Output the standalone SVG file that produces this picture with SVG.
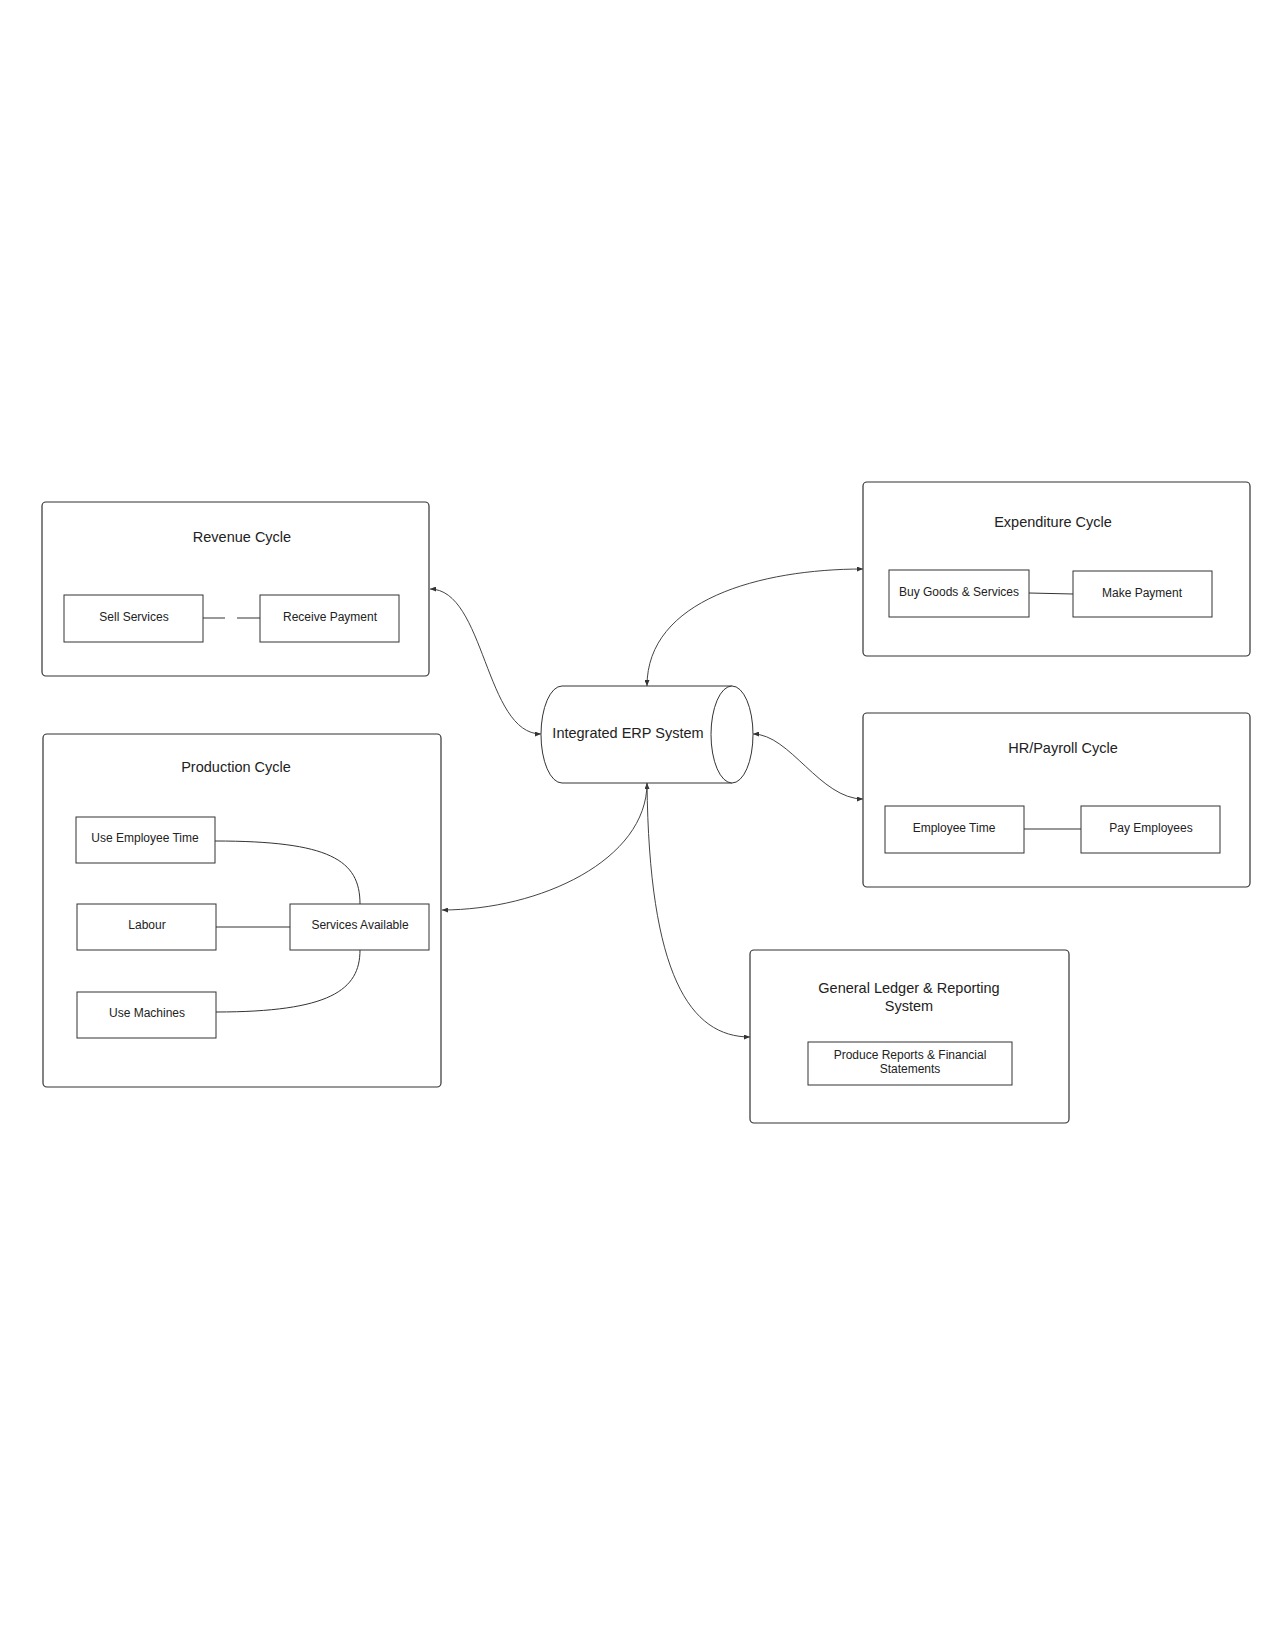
<svg xmlns="http://www.w3.org/2000/svg" width="1276" height="1651" viewBox="0 0 1276 1651">
<style>
.bg{fill:#ffffff}
.outer{fill:#ffffff;stroke:#333333;stroke-width:1.2}
.inner{fill:#ffffff;stroke:#333333;stroke-width:1}
.title{font-family:"Liberation Sans",Arial,sans-serif;font-size:14.5px;fill:#222222;text-anchor:middle}
.label{font-family:"Liberation Sans",Arial,sans-serif;font-size:12px;fill:#222222;text-anchor:middle}
.conn{fill:none;stroke:#444444;stroke-width:1}
.link{fill:none;stroke:#333333;stroke-width:1}
</style>
<defs>
<marker id="arr" viewBox="0 0 6 5" refX="6" refY="2.5" markerWidth="6" markerHeight="5" markerUnits="userSpaceOnUse" orient="auto-start-reverse">
<path d="M0,0 L6,2.5 L0,5 z" fill="#333333"/>
</marker>
</defs>
<rect class="bg" x="0" y="0" width="1276" height="1651"/>

<g id="revenue-cycle">
<rect class="outer" x="42" y="502" width="387" height="174" rx="4"/>
<text class="title" x="242" y="542">Revenue Cycle</text>
</g>
<g id="sell-services">
<rect class="inner" x="64" y="595" width="139" height="47"/>
<text class="label" x="134" y="621">Sell Services</text>
</g>
<g id="receive-payment">
<rect class="inner" x="260" y="595" width="139" height="47"/>
<text class="label" x="330" y="621">Receive Payment</text>
</g>

<g id="expenditure-cycle">
<rect class="outer" x="863" y="482" width="387" height="174" rx="4"/>
<text class="title" x="1053" y="527">Expenditure Cycle</text>
</g>
<g id="buy-goods">
<rect class="inner" x="889" y="570" width="140" height="47"/>
<text class="label" x="959" y="596">Buy Goods &amp; Services</text>
</g>
<g id="make-payment">
<rect class="inner" x="1073" y="571" width="139" height="46"/>
<text class="label" x="1142" y="597">Make Payment</text>
</g>

<g id="hr-payroll-cycle">
<rect class="outer" x="863" y="713" width="387" height="174" rx="4"/>
<text class="title" x="1063" y="753">HR/Payroll Cycle</text>
</g>
<g id="employee-time">
<rect class="inner" x="885" y="806" width="139" height="47"/>
<text class="label" x="954" y="832">Employee Time</text>
</g>
<g id="pay-employees">
<rect class="inner" x="1081" y="806" width="139" height="47"/>
<text class="label" x="1151" y="832">Pay Employees</text>
</g>

<g id="production-cycle">
<rect class="outer" x="43" y="734" width="398" height="353" rx="4"/>
<text class="title" x="236" y="772">Production Cycle</text>
</g>
<g id="use-employee-time">
<rect class="inner" x="76" y="817" width="139" height="46"/>
<text class="label" x="145" y="842">Use Employee Time</text>
</g>
<g id="labour">
<rect class="inner" x="77" y="904" width="139" height="46"/>
<text class="label" x="147" y="929">Labour</text>
</g>
<g id="use-machines">
<rect class="inner" x="77" y="992" width="139" height="46"/>
<text class="label" x="147" y="1017">Use Machines</text>
</g>
<g id="services-available">
<rect class="inner" x="290" y="904" width="139" height="46"/>
<text class="label" x="360" y="929">Services Available</text>
</g>

<g id="general-ledger">
<rect class="outer" x="750" y="950" width="319" height="173" rx="4"/>
<text class="title" x="909" y="993">General Ledger &amp; Reporting</text>
<text class="title" x="909" y="1011">System</text>
</g>
<g id="produce-reports">
<rect class="inner" x="808" y="1042" width="204" height="43"/>
<text class="label" x="910" y="1059">Produce Reports &amp; Financial</text>
<text class="label" x="910" y="1073">Statements</text>
</g>

<g id="erp-system">
<path class="inner" d="M562,686 H732 A21,48.5 0 0 1 732,783 H562 A21,48.5 0 0 1 562,686 Z"/>
<path class="inner" d="M732,686 A21,48.5 0 0 0 732,783"/>
<text class="title" x="628" y="738">Integrated ERP System</text>
</g>

<g id="connectors">
<path class="link" d="M203,618 H225 M237,618 H260"/>
<path class="link" d="M1029,593 L1073,594"/>
<path class="link" d="M1024,829 H1081"/>
<path class="link" d="M215,841 C330,841 360,860 360,904"/>
<path class="link" d="M216,927 H290"/>
<path class="link" d="M216,1012 C330,1012 360,990 360,950"/>
<path class="conn" marker-start="url(#arr)" marker-end="url(#arr)" d="M430,589 C485,589 485,734 541,734"/>
<path class="conn" marker-start="url(#arr)" marker-end="url(#arr)" d="M647,686 C647,600 760,569 863,569"/>
<path class="conn" marker-start="url(#arr)" marker-end="url(#arr)" d="M753,734 C790,734 820,799 863,799"/>
<path class="conn" marker-start="url(#arr)" marker-end="url(#arr)" d="M647,783 C647,860 540,910 442,910"/>
<path class="conn" marker-end="url(#arr)" d="M647,783 C649,975 690,1037 750,1037"/>
</g>
</svg>
